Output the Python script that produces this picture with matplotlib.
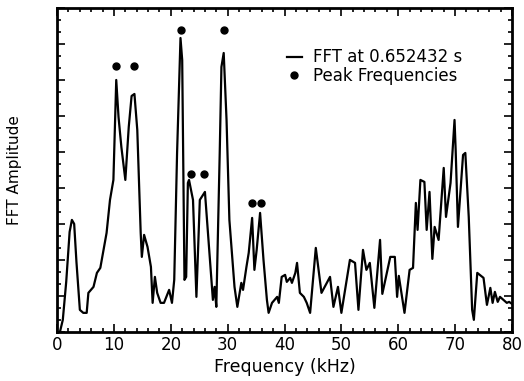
import matplotlib
matplotlib.use("Agg")
import matplotlib.pyplot as plt
import matplotlib.ticker as mticker

# FFT spectrum (amplitude in arbitrary units)
freq_khz = [0.5, 1.0, 1.6, 2.2, 2.6, 3.0, 3.4, 4.0, 4.6, 5.2, 5.5, 6.4, 7.0, 7.6, 8.7, 9.3,
            9.9, 10.4, 10.8, 11.3, 12.0, 12.6, 13.1, 13.6, 14.1, 14.7, 14.9, 15.3, 15.9, 16.5,
            16.8, 17.2, 17.6, 18.2, 18.8, 19.7, 20.2, 20.6, 21.1, 21.7, 22.0, 22.4, 22.7, 23.0,
            23.2, 23.9, 24.5, 25.1, 26.0, 26.8, 27.4, 27.7, 28.0, 28.6, 28.9, 29.3, 29.8, 30.3,
            31.2, 31.7, 32.4, 32.7, 33.3, 33.7, 34.3, 34.7, 35.1, 35.7, 36.3, 36.9, 37.2, 37.8,
            38.7, 39.0, 39.5, 40.1, 40.4, 41.0, 41.3, 41.9, 42.2, 42.7, 43.4, 43.9, 44.5, 45.5,
            46.5, 48.0, 48.6, 49.4, 50.0, 51.5, 52.4, 53.0, 53.8, 54.4, 55.0, 55.8, 56.8, 57.2,
            58.6, 59.4, 59.8, 60.1, 61.1, 62.0, 62.6, 63.1, 63.4, 63.9, 64.6, 65.0, 65.5, 66.0,
            66.4, 67.1, 68.0, 68.4, 69.2, 69.9, 70.1, 70.5, 71.4, 71.8, 72.4, 73.0, 73.3, 73.9,
            75.0, 75.6, 76.2, 76.6, 77.0, 77.5, 77.9, 78.5, 79.1, 79.5, 80.0]
amplitude = [0, 12, 50, 100, 112, 108, 70, 22, 19, 19, 39, 45, 59, 64, 99, 132,
             152, 252, 215, 185, 152, 205, 236, 238, 202, 99, 75, 97, 85, 65,
             29, 55, 39, 29, 29, 42, 29, 52, 179, 294, 272, 52, 55, 149,
             152, 132, 35, 132, 140, 79, 32, 45, 25, 179, 265, 279, 212, 112,
             45, 25, 49, 42, 65, 79, 114, 62, 82, 119, 72, 32, 19, 29,
             35, 29, 55, 57, 50, 54, 49, 59, 69, 39, 35, 29, 19, 84,
             39, 55, 25, 45, 19, 72, 69, 22, 82, 62, 69, 24, 92, 38,
             75, 75, 35, 56, 19, 62, 64, 129, 102, 152, 150, 102, 140, 73,
             105, 92, 164, 115, 149, 212, 182, 105, 177, 179, 115, 22, 12, 59,
             54, 27, 44, 29, 40, 30, 35, 32, 29, 30, 28]

# Detected peak markers
peak_khz = [10.4, 13.5, 21.8, 29.3, 23.5, 25.8, 34.3, 35.8]
peak_mark = [266, 266, 302, 302, 158, 158, 129, 129]

fig = plt.figure(figsize=(5.24, 3.81), dpi=100)
ax = fig.add_axes([0.109, 0.129, 0.868, 0.850])

ax.plot(freq_khz, amplitude, color="black", linewidth=1.6, label="FFT at 0.652432 s")
ax.plot(peak_khz, peak_mark, "o", color="black", markersize=5, label="Peak Frequencies")

ax.set_xlim(0, 80)
ax.set_ylim(0, 324)
ax.xaxis.set_major_locator(mticker.MultipleLocator(10))
ax.xaxis.set_minor_locator(mticker.MultipleLocator(2))
ax.yaxis.set_major_locator(mticker.MultipleLocator(36))
ax.yaxis.set_minor_locator(mticker.MultipleLocator(12))
ax.tick_params(which="both", direction="in", top=True, right=True, width=1.2)
ax.tick_params(which="major", length=6, labelsize=12, pad=3)
ax.tick_params(which="minor", length=3)
ax.set_yticklabels([])
for side in ax.spines.values():
    side.set_linewidth(2)

ax.set_xlabel("Frequency (kHz)", fontsize=12.5, labelpad=3)
ax.set_ylabel("FFT Amplitude", fontsize=11, labelpad=22)

ax.legend(loc="upper left", bbox_to_anchor=(0.505, 0.875), frameon=False, fontsize=12,
          handlelength=0.9, handletextpad=0.7, labelspacing=0.05, borderaxespad=0,
          borderpad=0)

fig.savefig("out.png", dpi=100)
plt.close(fig)
